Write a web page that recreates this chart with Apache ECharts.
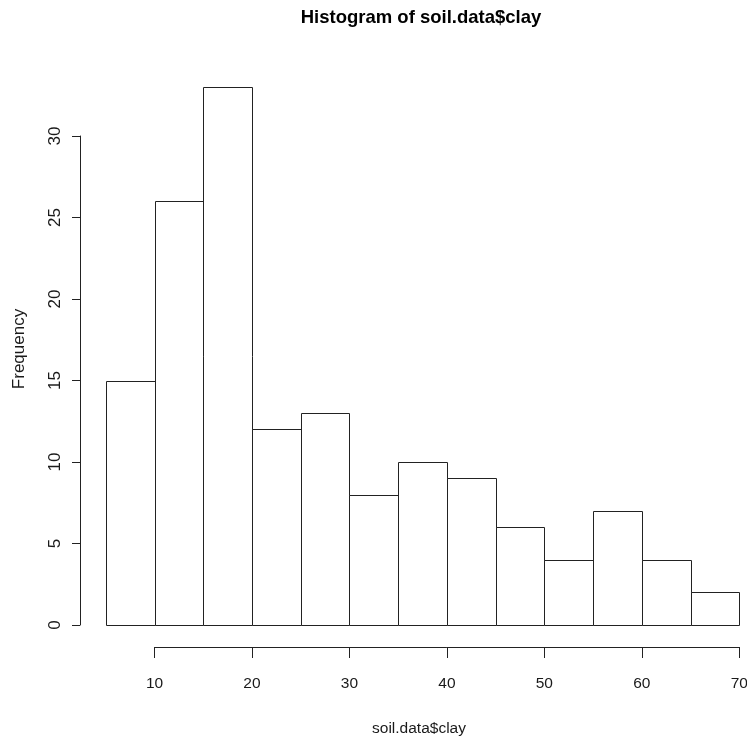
<!DOCTYPE html>
<html>
<head>
<meta charset="utf-8">
<script src="https://cdn.jsdelivr.net/npm/echarts@6/dist/echarts.min.js"></script>
<style>html,body{margin:0;padding:0;background:#fff}#c{width:747px;height:740px}</style>
</head>
<body>
<div id="c"></div>
<script>
const binStarts = [5, 10, 15, 20, 25, 30, 35, 40, 45, 50, 55, 60, 65];
const binEnds   = [10, 15, 20, 25, 30, 35, 40, 45, 50, 55, 60, 65, 70];
const counts    = [15, 26, 33, 12, 13, 8, 10, 9, 6, 4, 7, 4, 2];
const xTicks = [10, 20, 30, 40, 50, 60, 70];
const yTicks = [0, 5, 10, 15, 20, 25, 30];
const titleText = 'Histogram of soil.data$clay';
const xName = 'soil.data$clay';
const yName = 'Frequency';

const FONT = '"Liberation Sans", Arial, Helvetica, sans-serif';
const INK = '#222';

const data = binStarts.map((s, i) => [s, binEnds[i], counts[i]]);

const chart = echarts.init(document.getElementById('c'), null, {renderer: 'canvas'});
chart.setOption({
  backgroundColor: '#fff',
  animation: false,
  grid: [
    {left: 105.8, width: 633.5, top: 136, bottom: 115, containLabel: false, outerBoundsMode: 'none'},
    {left: 154.5, width: 584.8, top: 136, bottom: 115, containLabel: false, outerBoundsMode: 'none'}
  ],
  xAxis: [
    {gridIndex: 0, type: 'value', min: 5, max: 70, show: false},
    {gridIndex: 1, type: 'value', min: 10, max: 70, interval: 10, position: 'bottom', offset: 22,
     axisLine: {show: true, onZero: false, lineStyle: {color: INK, width: 1}},
     axisTick: {show: true, length: 11, lineStyle: {color: INK, width: 1}},
     axisLabel: {show: true, margin: 29, color: '#1a1a1a', fontFamily: FONT, fontSize: 15.5,
       customValues: xTicks},
     splitLine: {show: false}}
  ],
  yAxis: [
    {gridIndex: 0, type: 'value', min: 0, max: 30, interval: 5, position: 'left', offset: 25.8,
     axisLine: {show: true, onZero: false, lineStyle: {color: INK, width: 1}},
     axisTick: {show: true, length: 8, lineStyle: {color: INK, width: 1}},
     axisLabel: {show: true, rotate: 90, margin: 16, color: '#1a1a1a', fontFamily: FONT, fontSize: 17,
       customValues: yTicks},
     splitLine: {show: false}},
    {gridIndex: 1, type: 'value', min: 0, max: 30, show: false}
  ],
  graphic: [
    {type: 'text', x: 421, y: 18, style: {text: titleText, fill: '#000', font: 'bold 18.5px ' + FONT, align: 'center', verticalAlign: 'middle'}},
    {type: 'text', x: 419, y: 729, style: {text: xName, fill: '#1a1a1a', font: '15.5px ' + FONT, align: 'center', verticalAlign: 'middle'}},
    {type: 'text', x: 19, y: 349, rotation: Math.PI / 2, style: {text: yName, fill: '#1a1a1a', font: '17px ' + FONT, align: 'center', verticalAlign: 'middle'}}
  ],
  series: [{
    type: 'custom',
    xAxisIndex: 0,
    yAxisIndex: 0,
    clip: false,
    data: data,
    encode: {x: [0, 1], y: 2},
    renderItem: function (params, api) {
      const p0 = api.coord([api.value(0), 0]);
      const p1 = api.coord([api.value(1), api.value(2)]);
      const x0 = Math.round(p0[0]) + 0.5, x1 = Math.round(p1[0]) + 0.5;
      const y0 = Math.round(p0[1]) + 0.5, y1 = Math.round(p1[1]) + 0.5;
      return {
        type: 'rect',
        shape: {x: x0, y: y1, width: x1 - x0, height: y0 - y1},
        style: {fill: '#fff', stroke: INK, lineWidth: 1}
      };
    }
  }]
});
</script>
</body>
</html>
